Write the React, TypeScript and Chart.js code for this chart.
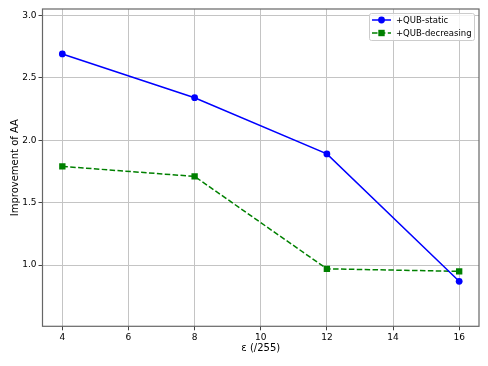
import React, { useEffect, useRef } from "react";
import { Chart, registerables } from "chart.js";

Chart.register(...registerables);

const epsilons = [4, 8, 12, 16];
const staticValues = [2.69, 2.34, 1.89, 0.87];
const decreasingValues = [1.79, 1.71, 0.97, 0.95];
const xTicks = [4, 6, 8, 10, 12, 14, 16];
const yTicks = [1.0, 1.5, 2.0, 2.5, 3.0];
const seriesLabels = ["+QUB-static", "+QUB-decreasing"];

const FONT = "'DejaVu Sans', sans-serif";

const framePlugin = {
  id: "frame",
  afterDraw(chart: any) {
    const { ctx, chartArea } = chart;
    ctx.save();
    ctx.strokeStyle = "#666666";
    ctx.lineWidth = 1.2;
    ctx.strokeRect(chartArea.left, chartArea.top, chartArea.right - chartArea.left, chartArea.bottom - chartArea.top);
    ctx.restore();
  },
};

const legendPlugin = {
  id: "mplLegend",
  afterDraw(chart: any) {
    const { ctx } = chart;
    const x0 = 369.5, y0 = 13.5, w = 105, h = 27;
    ctx.save();
    ctx.fillStyle = "rgba(255,255,255,0.8)";
    ctx.strokeStyle = "#cccccc";
    ctx.lineWidth = 1;
    ctx.beginPath();
    const r = 2;
    ctx.moveTo(x0 + r, y0);
    ctx.lineTo(x0 + w - r, y0);
    ctx.quadraticCurveTo(x0 + w, y0, x0 + w, y0 + r);
    ctx.lineTo(x0 + w, y0 + h - r);
    ctx.quadraticCurveTo(x0 + w, y0 + h, x0 + w - r, y0 + h);
    ctx.lineTo(x0 + r, y0 + h);
    ctx.quadraticCurveTo(x0, y0 + h, x0, y0 + h - r);
    ctx.lineTo(x0, y0 + r);
    ctx.quadraticCurveTo(x0, y0, x0 + r, y0);
    ctx.closePath();
    ctx.fill();
    ctx.stroke();
    chart.data.datasets.forEach((ds: any, i: number) => {
      const cy = 20 + i * 13;
      ctx.strokeStyle = ds.borderColor;
      ctx.lineWidth = 1.5;
      ctx.setLineDash(ds.borderDash || []);
      ctx.beginPath();
      ctx.moveTo(372, cy);
      ctx.lineTo(391, cy);
      ctx.stroke();
      ctx.setLineDash([]);
      ctx.fillStyle = ds.pointBackgroundColor;
      if (ds.pointStyle === "rect") {
        ctx.fillRect(381.5 - 3.2, cy - 3.2, 6.4, 6.4);
      } else {
        ctx.beginPath();
        ctx.arc(381.5, cy, 3.4, 0, Math.PI * 2);
        ctx.fill();
      }
      ctx.fillStyle = "#000";
      ctx.font = `8.5px ${FONT}`;
      ctx.textBaseline = "middle";
      ctx.textAlign = "left";
      ctx.fillText(ds.label, 396, cy + 0.5);
    });
    ctx.restore();
  },
};

export default function App() {
  const ref = useRef<HTMLCanvasElement>(null);
  useEffect(() => {
    if (!ref.current) return;
    const chart = new Chart(ref.current, {
      type: "line",
      data: {
        datasets: [
          {
            label: seriesLabels[0],
            data: epsilons.map((x, i) => ({ x, y: staticValues[i] })),
            borderColor: "#0000ff",
            backgroundColor: "#0000ff",
            pointBackgroundColor: "#0000ff",
            pointBorderWidth: 0,
            pointStyle: "circle",
            pointRadius: 3.4,
            borderWidth: 1.5,
          },
          {
            label: seriesLabels[1],
            data: epsilons.map((x, i) => ({ x, y: decreasingValues[i] })),
            borderColor: "#008000",
            backgroundColor: "#008000",
            pointBackgroundColor: "#008000",
            pointBorderWidth: 0,
            pointStyle: "rect",
            pointRadius: 4.5,
            borderWidth: 1.5,
            borderDash: [5.5, 2.4],
          },
        ],
      },
      options: {
        responsive: false,
        animation: false,
        layout: { padding: { top: 9, right: 9, left: 0, bottom: 0 } },
        plugins: { legend: { display: false }, tooltip: { enabled: false } },
        scales: {
          x: {
            type: "linear",
            min: 3.4,
            max: 16.6,
            afterBuildTicks: (s: any) => {
              s.ticks = xTicks.map((v) => ({ value: v }));
            },
            afterFit: (s: any) => {
              s.height = 366 - 326.3;
            },
            grid: { color: "#c4c4c4", lineWidth: 1, tickLength: 4, tickColor: "#444", drawTicks: true },
            border: { display: false },
            ticks: { color: "#000", font: { family: FONT, size: 9 }, padding: 1.5, maxRotation: 0, callback: (v: any) => String(v) },
            title: { display: true, text: "ε (/255)", color: "#000", font: { family: FONT, size: 10 }, padding: { top: 0, bottom: 11.5 } },
          },
          y: {
            type: "linear",
            min: 0.51,
            max: 3.05,
            afterBuildTicks: (s: any) => {
              s.ticks = yTicks.map((v) => ({ value: v }));
            },
            afterFit: (s: any) => {
              s.width = 42.5;
            },
            grid: { color: "#c4c4c4", lineWidth: 1, tickLength: 4, tickColor: "#444", drawTicks: true },
            border: { display: false },
            ticks: { color: "#000", font: { family: FONT, size: 9 }, padding: 2, callback: (v: any) => Number(v).toFixed(1) },
            title: { display: true, text: "Improvement of AA", color: "#000", font: { family: FONT, size: 10 }, padding: { top: 9.5, bottom: 0 } },
          },
        },
      },
      plugins: [framePlugin, legendPlugin],
    } as any);
    return () => chart.destroy();
  }, []);
  return (
    <div style={{ position: "fixed", left: 0, top: 0, width: 488, height: 366, background: "#fff" }}>
      <canvas ref={ref} width={488} height={366} />
    </div>
  );
}
